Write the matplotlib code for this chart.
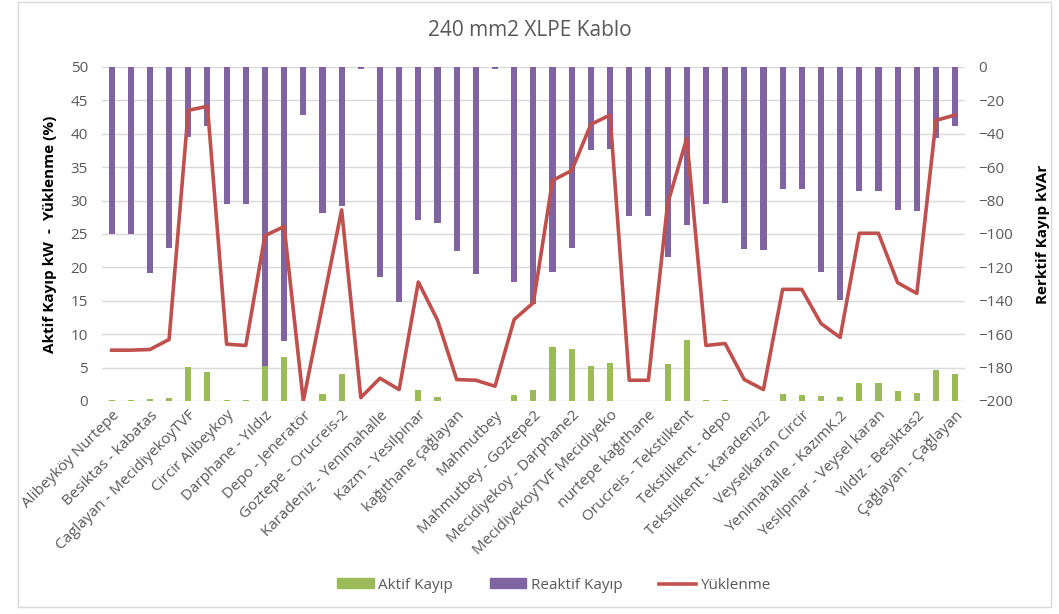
import numpy as np
import matplotlib.pyplot as plt
from matplotlib.patches import Patch, Rectangle
from matplotlib.lines import Line2D

plt.rcParams['font.family'] = ['Open Sans', 'DejaVu Sans']

# every other category carries a label in the original chart
labels = ["Alibeyköy Nurtepe", "Besiktas - kabatas", "Caglayan - MecidiyekoyTVF",
          "Circir Alibeykoy", "Darphane - Yıldız", "Depo - Jeneratör",
          "Goztepe - Orucreis-2", "Karadeniz - Yenimahalle", "Kazm - Yesilpinar",
          "kağıthane çağlayan", "Mahmutbey", "Mahmutbey - Goztepe2",
          "Mecidiyekoy - Darphane2", "MecidiyekoyTVF Mecidiyeko", "nurtepe kağıthane",
          "Orucreis - Tekstilkent", "Tekstilkent - depo", "Tekstilkent - Karadeniz2",
          "Veyselkaran Circir", "Yenimahalle - KazımK.2", "Yesilpınar - Veysel karan",
          "Yıldız - Besiktas2", "Çağlayan - Çağlayan"]

aktif = [0.2, 0.2, 0.3, 0.45, 5.1, 4.35, 0.2, 0.2, 5.2, 6.6,
         0.0, 1.0, 4.0, 0.0, 0.0, 0.0, 1.6, 0.55, 0.0, 0.0,
         0.0, 0.95, 1.6, 8.1, 7.8, 5.3, 5.7, 0.0, 0.0, 5.6,
         9.1, 0.2, 0.2, 0.0, 0.0, 1.1, 0.95, 0.8, 0.55, 2.7,
         2.7, 1.45, 1.25, 4.7, 4.1]

reaktif = [-100, -100, -123.4, -108.4, -41.9, -35.1, -82.2, -82.2, -179, -164,
           -28.7, -87.4, -83.4, -1.4, -126, -141, -91.8, -93.4, -110.4, -124,
           -1.4, -128.7, -142, -122.8, -108.2, -49.5, -49.1, -89, -89, -114,
           -94.8, -82.2, -81.2, -109.2, -109.8, -73.3, -73.3, -122.8, -139.3, -74.5,
           -74.5, -85.8, -86.4, -42.3, -35.1]

yuklenme = [7.6, 7.6, 7.7, 9.2, 43.5, 44.1, 8.5, 8.3, 24.75, 26.1,
            0.0, 14.3, 28.6, 0.5, 3.4, 1.7, 17.8, 12.1, 3.2, 3.1,
            2.2, 12.2, 14.7, 33.0, 34.5, 41.4, 42.8, 3.1, 3.1, 29.5,
            39.3, 8.3, 8.6, 3.2, 1.7, 16.7, 16.7, 11.6, 9.5, 25.1,
            25.1, 17.7, 16.1, 42.0, 42.8]

green = '#9BBB59'
purple = '#8064A2'
red = '#C0504D'
grey = '#595959'

x = np.arange(len(aktif))

fig = plt.figure(figsize=(10.59, 6.14), dpi=100)
ax = fig.add_axes([0.0963, 0.347, 0.8147, 0.544])
ax2 = ax.twinx()

# reactive bars on the secondary axis, hanging from 0
ax2.bar(x, reaktif, width=0.32, color=purple)
ax2.set_ylim(-200, 0)
ax2.set_yticks(np.arange(-200, 1, 20))
ax2.yaxis.grid(True, color='#D9D9D9', linewidth=1)
ax2.set_axisbelow(True)

# primary axis on top: active bars + loading line
ax.set_zorder(ax2.get_zorder() + 1)
ax.patch.set_visible(False)
ax.bar(x, aktif, width=0.32, color=green)
ax.plot(x, yuklenme, color=red, linewidth=2.6, solid_joinstyle='round')
ax.set_ylim(0, 50)
ax.set_yticks(np.arange(0, 51, 5))
ax.set_xlim(-0.5, len(x) - 0.5)
ax.set_xticks(x[::2])
ax.set_xticklabels(labels, rotation=45, ha='right', rotation_mode='anchor')

for a in (ax, ax2):
    for s in a.spines.values():
        s.set_visible(False)
    a.tick_params(length=0, labelsize=11, labelcolor=grey)
ax.tick_params(axis='y', pad=10)
ax2.tick_params(axis='y', pad=10)
ax.tick_params(axis='x', pad=5)

ax.set_ylabel('Aktif Kayıp kW  -  Yüklenme (%)', fontsize=11, fontweight='bold', labelpad=10)
ax2.set_ylabel('Rerktif Kayıp kVAr', fontsize=11, fontweight='bold', labelpad=16)

fig.text(0.5, 0.951, '240 mm2 XLPE Kablo', ha='center', va='center', fontsize=15, color=grey)

handles = [Patch(color=green), Patch(color=purple), Line2D([0], [0], color=red, linewidth=2.6)]
fig.legend(handles, ['Aktif Kayıp', 'Reaktif Kayıp', 'Yüklenme'], loc='center',
           bbox_to_anchor=(0.523, 0.047), ncol=3, frameon=False, fontsize=11,
           labelcolor=grey, handlelength=2.4, handleheight=0.6, columnspacing=2.4,
           handletextpad=0.3)

fig.patches.append(Rectangle((0.017, 0.012), 0.975, 0.985, transform=fig.transFigure,
                             fill=False, edgecolor='#D9D9D9', linewidth=1))

fig.savefig('out.png', dpi=100)
